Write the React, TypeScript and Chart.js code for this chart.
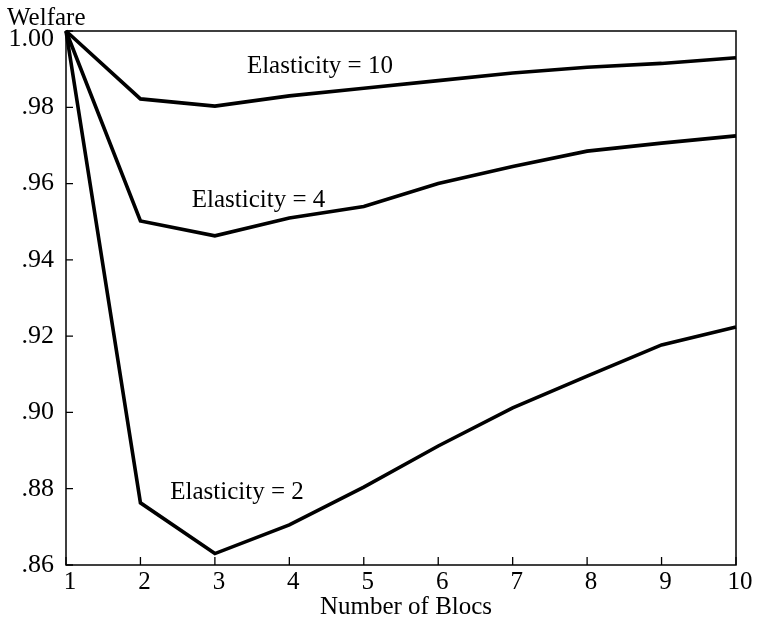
import React, { useEffect, useRef } from "react";
import { Chart, registerables } from "chart.js";

Chart.register(...registerables);

const blocs = [1, 2, 3, 4, 5, 6, 7, 8, 9, 10];
const welfareE10 = [1.0, 0.9822, 0.9803, 0.983, 0.985, 0.987, 0.989, 0.9905, 0.9915, 0.993];
const welfareE4 = [1.0, 0.9502, 0.9463, 0.951, 0.954, 0.96, 0.9645, 0.9685, 0.9706, 0.9725];
const welfareE2 = [1.0, 0.8763, 0.863, 0.8705, 0.8804, 0.8912, 0.9012, 0.9095, 0.9177, 0.9224];
const yTickValues = [0.86, 0.88, 0.9, 0.92, 0.94, 0.96, 0.98, 1.0];
const yTickLabels = [".86", ".88", ".90", ".92", ".94", ".96", ".98", "1.00"];
const xTickLabels = ["1", "2", "3", "4", "5", "6", "7", "8", "9", "10"];
const seriesNames = ["Elasticity = 10", "Elasticity = 4", "Elasticity = 2"];
const yAxisTitle = "Welfare";
const xAxisTitle = "Number of Blocs";

const FONT = '"Liberation Serif", "Times New Roman", serif';

const decorPlugin = {
  id: "decor",
  afterDraw(chart: any) {
    const ctx = chart.ctx as CanvasRenderingContext2D;
    const xs = chart.scales.x;
    const ys = chart.scales.y;
    const { left, right, top, bottom } = chart.chartArea;
    ctx.save();
    ctx.strokeStyle = "#000";
    ctx.fillStyle = "#000";
    // frame
    ctx.lineWidth = 1.5;
    ctx.strokeRect(left, top, right - left, bottom - top);
    // inward tick marks
    ctx.lineWidth = 1.3;
    ctx.beginPath();
    yTickValues.forEach((v) => {
      const py = ys.getPixelForValue(v);
      ctx.moveTo(left, py);
      ctx.lineTo(left + 7, py);
    });
    blocs.forEach((b) => {
      const px = xs.getPixelForValue(b);
      ctx.moveTo(px, bottom);
      ctx.lineTo(px, bottom - 8);
    });
    ctx.stroke();

    ctx.font = `26px ${FONT}`;
    // y tick labels
    ctx.textAlign = "right";
    ctx.textBaseline = "middle";
    yTickValues.forEach((v, i) => {
      const py = ys.getPixelForValue(v) + (i === yTickValues.length - 1 ? 8 : 0);
      ctx.fillText(yTickLabels[i], left - 12, py);
    });
    // y title
    ctx.font = `25px ${FONT}`;
    ctx.textAlign = "left";
    ctx.fillText(yAxisTitle, 7, 18);
    // x tick labels
    ctx.textAlign = "center";
    ctx.textBaseline = "middle";
    blocs.forEach((b, i) => {
      ctx.fillText(xTickLabels[i], xs.getPixelForValue(b) + 4, bottom + 17);
    });
    // x title
    ctx.fillText(xAxisTitle, (left + right) / 2 + 5, bottom + 42);

    // series labels (anchored in data coordinates)
    const anchors: [number, number][] = [
      [3.43, 0.9906],
      [2.69, 0.9557],
      [2.4, 0.8789],
    ];
    ctx.textAlign = "left";
    ctx.font = `25px ${FONT}`;
    anchors.forEach((a, i) => {
      ctx.fillText(seriesNames[i], xs.getPixelForValue(a[0]), ys.getPixelForValue(a[1]));
    });
    ctx.restore();
  },
};

export default function App() {
  const ref = useRef<HTMLCanvasElement | null>(null);
  useEffect(() => {
    if (!ref.current) return;
    const mk = (vals: number[]) => blocs.map((b, i) => ({ x: b, y: vals[i] }));
    const ds = (label: string, vals: number[]) => ({
      label,
      data: mk(vals),
      borderColor: "#000",
      backgroundColor: "#000",
      borderWidth: 3.6,
      pointRadius: 0,
      tension: 0,
      borderJoinStyle: "miter" as const,
      clip: 8,
    });
    const chart = new Chart(ref.current, {
      type: "line",
      data: {
        datasets: [
          ds(seriesNames[0], welfareE10),
          ds(seriesNames[1], welfareE4),
          ds(seriesNames[2], welfareE2),
        ],
      },
      options: {
        animation: false,
        responsive: false,
        devicePixelRatio: 1,
        layout: { padding: { left: 66, top: 31, right: 22, bottom: 55 } },
        plugins: { legend: { display: false }, tooltip: { enabled: false } },
        scales: {
          x: {
            type: "linear",
            min: 1,
            max: 10,
            ticks: { display: false, stepSize: 1 },
            grid: { display: false, drawTicks: false },
            border: { display: false },
          },
          y: {
            type: "linear",
            min: 0.86,
            max: 1.0,
            ticks: { display: false, stepSize: 0.02 },
            grid: { display: false, drawTicks: false },
            border: { display: false },
          },
        },
      },
      plugins: [decorPlugin],
    });
    return () => chart.destroy();
  }, []);
  return (
    <div style={{ position: "fixed", left: 0, top: 0, width: 758, height: 620, background: "#fff" }}>
      <canvas ref={ref} width={758} height={620} style={{ width: 758, height: 620 }} />
    </div>
  );
}
